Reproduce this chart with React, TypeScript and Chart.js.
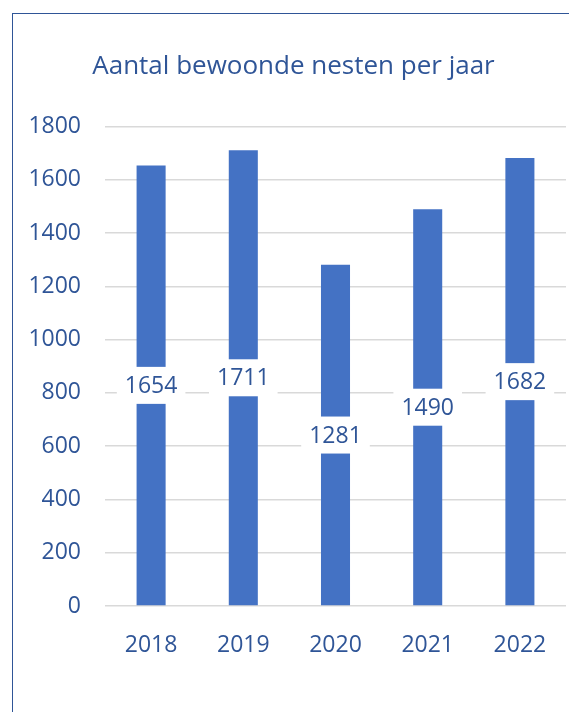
import React, { useEffect, useRef } from "react";
import { Chart, registerables } from "chart.js";

Chart.register(...registerables);

const years: string[] = ["2018", "2019", "2020", "2021", "2022"];
const nests: number[] = [1654, 1711, 1281, 1490, 1682];
const yTicksMax = 1800;
const yStep = 200;
const titleText = "Aantal bewoonde nesten per jaar";

const TEXT = "#2F5597";
const BAR = "#4472C4";
const GRID = "#D9D9D9";
const FONT = '"Open Sans", "Noto Sans", sans-serif';

const labelPlugin = {
  id: "barValueLabels",
  afterDatasetsDraw(chart: any) {
    const ctx = chart.ctx;
    const meta = chart.getDatasetMeta(0);
    ctx.save();
    ctx.font = `23px ${FONT}`;
    ctx.textAlign = "center";
    ctx.textBaseline = "middle";
    meta.data.forEach((bar: any, i: number) => {
      const { x, y, base } = bar.getProps(["x", "y", "base"], true);
      const cy = (y + base) / 2;
      const text = String(nests[i]);
      const w = ctx.measureText(text).width + 16;
      const h = 37;
      ctx.fillStyle = "#FFFFFF";
      ctx.fillRect(x - w / 2, cy - h / 2, w, h);
      ctx.fillStyle = TEXT;
      ctx.fillText(text, x, cy + 1);
    });
    ctx.restore();
  },
};

export default function App() {
  const ref = useRef<HTMLCanvasElement | null>(null);

  useEffect(() => {
    if (!ref.current) return;
    const chart = new Chart(ref.current, {
      type: "bar",
      data: {
        labels: years,
        datasets: [
          {
            data: nests,
            backgroundColor: BAR,
            borderWidth: 0,
            categoryPercentage: 1,
            barPercentage: 0.315,
          },
        ],
      },
      options: {
        animation: false,
        responsive: false,
        maintainAspectRatio: false,
        layout: { padding: { left: 21, right: 3, top: 0, bottom: 46 } },
        plugins: {
          legend: { display: false },
          tooltip: { enabled: false },
          title: {
            display: true,
            text: titleText,
            color: TEXT,
            font: { family: FONT, size: 26, weight: "normal", lineHeight: 1.2 },
            padding: { top: 51, bottom: 44.4 },
          },
        },
        scales: {
          x: {
            grid: { display: false },
            border: { display: false },
            ticks: {
              color: TEXT,
              font: { family: FONT, size: 23 },
              padding: 18,
            },
            afterFit: (scale: any) => {
              scale.height = 60;
            },
          },
          y: {
            min: 0,
            max: yTicksMax,
            grid: { color: GRID, lineWidth: 1.5, drawTicks: false },
            border: { display: false },
            ticks: {
              stepSize: yStep,
              color: TEXT,
              font: { family: FONT, size: 23 },
              padding: 24,
              callback: (v: any) => String(v),
            },
            afterFit: (scale: any) => {
              scale.width = 84;
            },
          },
        },
      },
      plugins: [labelPlugin],
    });
    if ((document as any).fonts && (document as any).fonts.ready) {
      (document as any).fonts.ready.then(() => chart.update());
    }
    return () => chart.destroy();
  }, []);

  return (
    <div style={{ position: "fixed", left: 0, top: 0, width: 569, height: 712, background: "#FFFFFF", overflow: "hidden" }}>
      <canvas ref={ref} width={569} height={712} style={{ position: "absolute", left: 0, top: 0, width: 569, height: 712 }} />
      <div
        style={{
          position: "absolute",
          left: 12,
          top: 13,
          width: 600,
          height: 800,
          borderLeft: "1.5px solid #2F5597",
          borderTop: "1.5px solid #2F5597",
          boxSizing: "border-box",
          pointerEvents: "none",
        }}
      />
    </div>
  );
}
